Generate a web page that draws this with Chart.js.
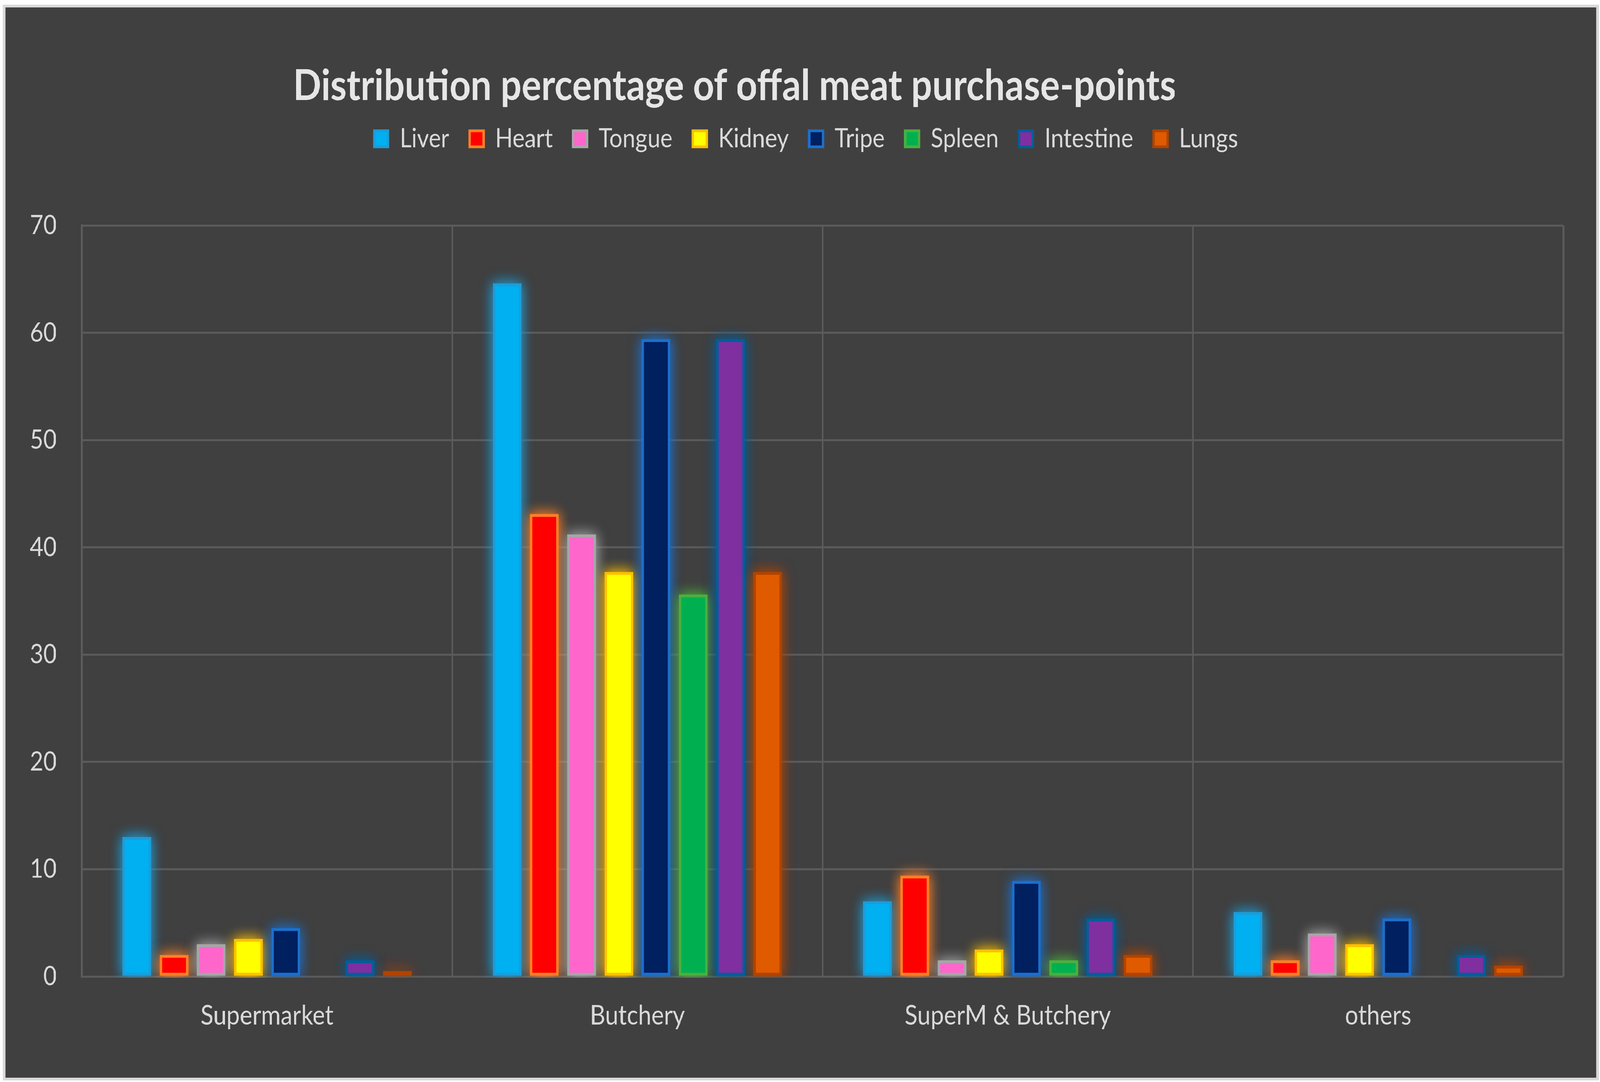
<!DOCTYPE html>
<html>
<head>
<meta charset="utf-8">
<script src="https://cdn.jsdelivr.net/npm/chart.js@4.4.0/dist/chart.umd.min.js"></script>
<style>
  html, body { margin: 0; padding: 0; background: #ffffff; overflow: hidden; }
  #stage { position: absolute; left: 0; top: 0; width: 4711px; height: 2769px; transform-origin: 0 0; background: #ffffff; }
  #frame { position: absolute; left: 9px; top: 12px; width: 4698px; height: 2753px;
           border: 7px solid #D9D9D9; box-sizing: border-box; background: #404040; }
  #c { position: absolute; left: 0; top: 0; }
</style>
</head>
<body>
<div id="stage">
<div id="frame"><canvas id="c" width="4684" height="2739"></canvas></div>
</div>
<script>
const categories = ['Supermarket', 'Butchery', 'SuperM & Butchery', 'others'];
const seriesNames = ['Liver', 'Heart', 'Tongue', 'Kidney', 'Tripe', 'Spleen', 'Intestine', 'Lungs'];
const liver     = [13, 64.6, 7, 6];
const heart     = [2, 43.1, 9.4, 1.5];
const tongue    = [3, 41.2, 1.5, 4];
const kidney    = [3.5, 37.7, 2.5, 3];
const tripe     = [4.5, 59.4, 8.9, 5.4];
const spleen    = [0, 35.6, 1.5, 0];
const intestine = [1.5, 59.4, 5.4, 2];
const lungs     = [0.5, 37.7, 2, 1];
const yTicks    = [0, 10, 20, 30, 40, 50, 60, 70];
const chartTitle = 'Distribution percentage of offal meat purchase-points';

const seriesValues = [liver, heart, tongue, kidney, tripe, spleen, intestine, lungs];
const fills   = ['#00B0F0', '#FF0000', '#FF66CC', '#FFFF00', '#002060', '#00B050', '#7F2FA0', '#E05A00'];
const borders = ['#1E9CD7', '#FF7F27', '#A6A6A6', '#FFC000', '#1C6FCC', '#4CAF40', '#005E9A', '#B04400'];

// Fit the 4711x2769 design into whatever viewport the browser really has.
const W = 4711, H = 2769;
const sx = Math.min(window.innerWidth / W, 1);
const sy = Math.min(window.innerHeight / H, 1);
document.getElementById('stage').style.transform = 'scale(' + sx + ',' + sy + ')';

function rgba(hex, a) {
  const n = parseInt(hex.slice(1), 16);
  return 'rgba(' + ((n >> 16) & 255) + ',' + ((n >> 8) & 255) + ',' + (n & 255) + ',' + a + ')';
}

const glowPlugin = {
  id: 'glow',
  beforeDatasetsDraw(chart) {
    const { ctx, chartArea } = chart;
    ctx.save();
    ctx.beginPath();
    ctx.rect(chartArea.left, 0, chartArea.right - chartArea.left, chartArea.bottom + 3);
    ctx.clip();
    chart.data.datasets.forEach((ds, i) => {
      const meta = chart.getDatasetMeta(i);
      ctx.fillStyle = ds.borderColor;
      for (let pass = 0; pass < 2; pass++) {
        ctx.shadowColor = rgba(ds.borderColor, 0.75);
        ctx.shadowBlur = 36;
        meta.data.forEach(bar => {
          const p = bar.getProps(['x', 'y', 'base', 'width'], true);
          const h = p.base - p.y;
          if (h > 0.5) ctx.fillRect(p.x - p.width / 2, p.y, p.width, h);
        });
      }
    });
    ctx.restore();
  }
};

const shiftPlugin = {
  id: 'shift',
  afterLayout(chart) {
    const t = chart.titleBlock;
    if (t) { t.left = 0; t.right = 4294; }
    const l = chart.legend;
    if (l) { l.left += 64; l.right += 64; }
  }
};

new Chart(document.getElementById('c'), {
  type: 'bar',
  data: {
    labels: categories,
    datasets: seriesNames.map((name, i) => ({
      label: name,
      data: seriesValues[i],
      backgroundColor: fills[i],
      borderColor: borders[i],
      borderWidth: 7,
      borderSkipped: false,
      categoryPercentage: 0.804,
      barPercentage: 0.767
    }))
  },
  options: {
    responsive: false,
    animation: false,
    devicePixelRatio: 1,
    layout: { padding: { left: 0, right: 97, top: 0, bottom: 0 } },
    plugins: {
      title: {
        display: true,
        text: chartTitle,
        color: '#E7E6E6',
        font: { family: 'Lato', size: 109, weight: 'bold', lineHeight: 0.8 },
        padding: { top: 158, bottom: -3 }
      },
      subtitle: {
        display: true,
        text: '',
        weight: 500,
        font: { size: 20, lineHeight: 1 },
        padding: { top: 158, bottom: 0 }
      },
      legend: {
        display: true,
        position: 'top',
        labels: {
          color: '#D9D9D9',
          font: { family: 'Lato', size: 68 },
          boxWidth: 41,
          boxHeight: 41,
          padding: 60
        }
      },
      tooltip: { enabled: false }
    },
    scales: {
      x: {
        grid: { display: true, color: '#5B5B5B', lineWidth: 5, drawTicks: false, offset: true },
        border: { display: false },
        ticks: { color: '#D9D9D9', font: { family: 'Lato', size: 70 }, padding: 58, maxRotation: 0 },
        afterFit(scale) { scale.height = 259; }
      },
      y: {
        min: 0,
        max: 70,
        afterBuildTicks(scale) { scale.ticks = yTicks.map(v => ({ value: v })); },
        grid: { color: '#5B5B5B', lineWidth: 5, drawTicks: false },
        border: { display: true, color: '#5C5C5C', width: 6 },
        ticks: { color: '#D9D9D9', font: { family: 'Lato', size: 68 }, padding: 74 },
        afterFit(scale) { scale.width = 225; }
      }
    }
  },
  plugins: [glowPlugin, shiftPlugin]
});
</script>
</body>
</html>
